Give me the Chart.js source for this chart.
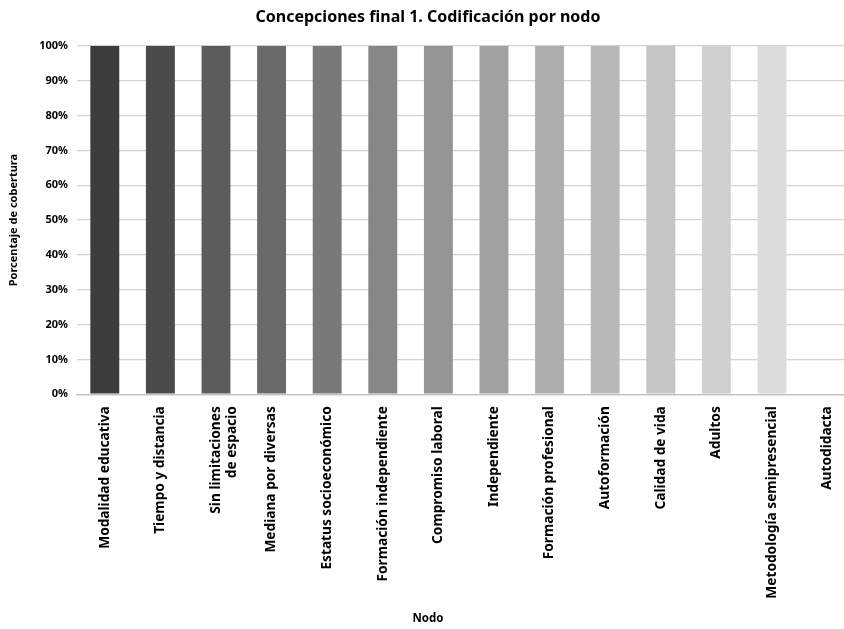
<!DOCTYPE html>
<html>
<head>
<meta charset="utf-8">
<script src="https://cdn.jsdelivr.net/npm/chart.js@4"></script>
<style>
  html, body { margin: 0; padding: 0; background: #fff; overflow: hidden; }
  #wrap { width: 856px; height: 629px; }
</style>
</head>
<body>
<div id="wrap"><canvas id="c" width="856" height="629"></canvas></div>
<script>
const categories = [
  "Modalidad educativa",
  "Tiempo y distancia",
  ["Sin limitaciones", "de espacio"],
  "Mediana por diversas",
  "Estatus socioeconómico",
  "Formación independiente",
  "Compromiso laboral",
  "Independiente",
  "Formación profesional",
  "Autoformación",
  "Calidad de vida",
  "Adultos",
  "Metodología semipresencial",
  "Autodidacta"
];
const coverage = [100, 100, 100, 100, 100, 100, 100, 100, 100, 100, 100, 100, 100, 0];
const barColors = ["#3c3c3c", "#4b4b4b", "#5c5c5c", "#6a6a6a", "#797979", "#878787", "#949494", "#a1a1a1", "#adadad", "#b9b9b9", "#c5c5c5", "#d0d0d0", "#dcdcdc", "#e6e6e6"];
const yTicks = [0, 10, 20, 30, 40, 50, 60, 70, 80, 90, 100];

const FONT = "'Noto Sans', 'Open Sans', sans-serif";

new Chart(document.getElementById('c'), {
  type: 'bar',
  data: {
    labels: categories,
    datasets: [{
      data: coverage,
      backgroundColor: barColors,
      borderWidth: 0,
      categoryPercentage: 1,
      barPercentage: 0.52
    }]
  },
  options: {
    responsive: false,
    animation: false,
    layout: { padding: { left: 0, right: 0, top: 0, bottom: 0 } },
    plugins: {
      legend: { display: false },
      tooltip: { enabled: false },
      title: {
        display: true,
        text: 'Concepciones final 1. Codificación por nodo',
        color: '#000',
        font: { family: FONT, size: 16, weight: 'bold' },
        padding: { top: 8, bottom: 18.8 }
      },
      subtitle: {
        display: true,
        position: 'bottom',
        text: 'Nodo',
        color: '#000',
        font: { family: FONT, size: 11.5, weight: 'bold' },
        padding: { top: 0, bottom: 3 }
      }
    },
    scales: {
      x: {
        grid: { display: false, drawTicks: false },
        border: { display: true, color: '#bfbfbf', width: 1.3 },
        ticks: {
          autoSkip: false,
          minRotation: 90,
          maxRotation: 90,
          padding: 12,
          color: '#000',
          font: { family: FONT, size: 13.7, weight: 'bold' }
        },
        afterFit(scale) { scale.height = 218; }
      },
      y: {
        min: 0,
        max: 100,
        afterBuildTicks(scale) { scale.ticks = yTicks.map(v => ({ value: v })); },
        grid: { color: '#d3d3d3', lineWidth: 1.3, drawTicks: false },
        border: { display: false },
        ticks: {
          padding: 9,
          color: '#000',
          font: { family: FONT, size: 11, weight: 'bold' },
          callback: v => v + '%'
        },
        title: {
          display: true,
          text: 'Porcentaje de cobertura',
          color: '#000',
          font: { family: FONT, size: 11, weight: 'bold' },
          padding: { top: 7, bottom: 0 }
        },
        afterFit(scale) { scale.width = 77; }
      }
    }
  }
});
</script>
</body>
</html>
